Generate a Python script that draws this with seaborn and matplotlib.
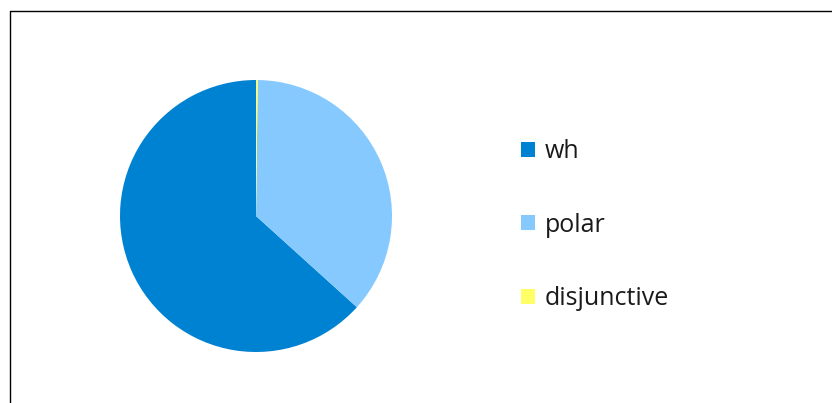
import matplotlib
matplotlib.use("Agg")
import matplotlib.pyplot as plt
import seaborn as sns
from matplotlib.patches import Patch
from matplotlib.lines import Line2D

categories = ["wh", "polar", "disjunctive"]
values = [63.3, 36.5, 0.2]
colors = ["#0082D2", "#86C9FE", "#FFFF66"]

sns.set_theme(style="white")
plt.rcParams['font.family'] = ['Open Sans', 'DejaVu Sans']

W, H = 832, 403
fig = plt.figure(figsize=(W / 100, H / 100), dpi=100)
fig.patch.set_facecolor("white")

ax = fig.add_axes([120 / W, 51 / H, 272 / W, 272 / H])
ax.pie(values, colors=colors, startangle=90, counterclock=True,
       wedgeprops=dict(linewidth=0))
ax.set_aspect("equal")
ax.set_xlim(-1, 1)
ax.set_ylim(-1, 1)
ax.axis("off")

handles = [Patch(facecolor=c, edgecolor="none") for c in colors]
leg = fig.legend(handles, categories, loc="upper left",
                 bbox_to_anchor=(521 / W, 1 - 139 / H),
                 frameon=False, fontsize=18,
                 handlelength=0.56, handleheight=0.56,
                 handletextpad=0.4, labelspacing=1.94,
                 borderaxespad=0, borderpad=0)
for t in leg.get_texts():
    t.set_color("#1a1a1a")

# partial frame (top and left edges)
fig.add_artist(Line2D([9.5 / W, 1.0], [1 - 10.5 / H, 1 - 10.5 / H],
                      transform=fig.transFigure, color="black", linewidth=1.0))
fig.add_artist(Line2D([9.5 / W, 9.5 / W], [0, 1 - 10.5 / H],
                      transform=fig.transFigure, color="black", linewidth=1.0))

fig.savefig("out.png", dpi=100, facecolor="white")
